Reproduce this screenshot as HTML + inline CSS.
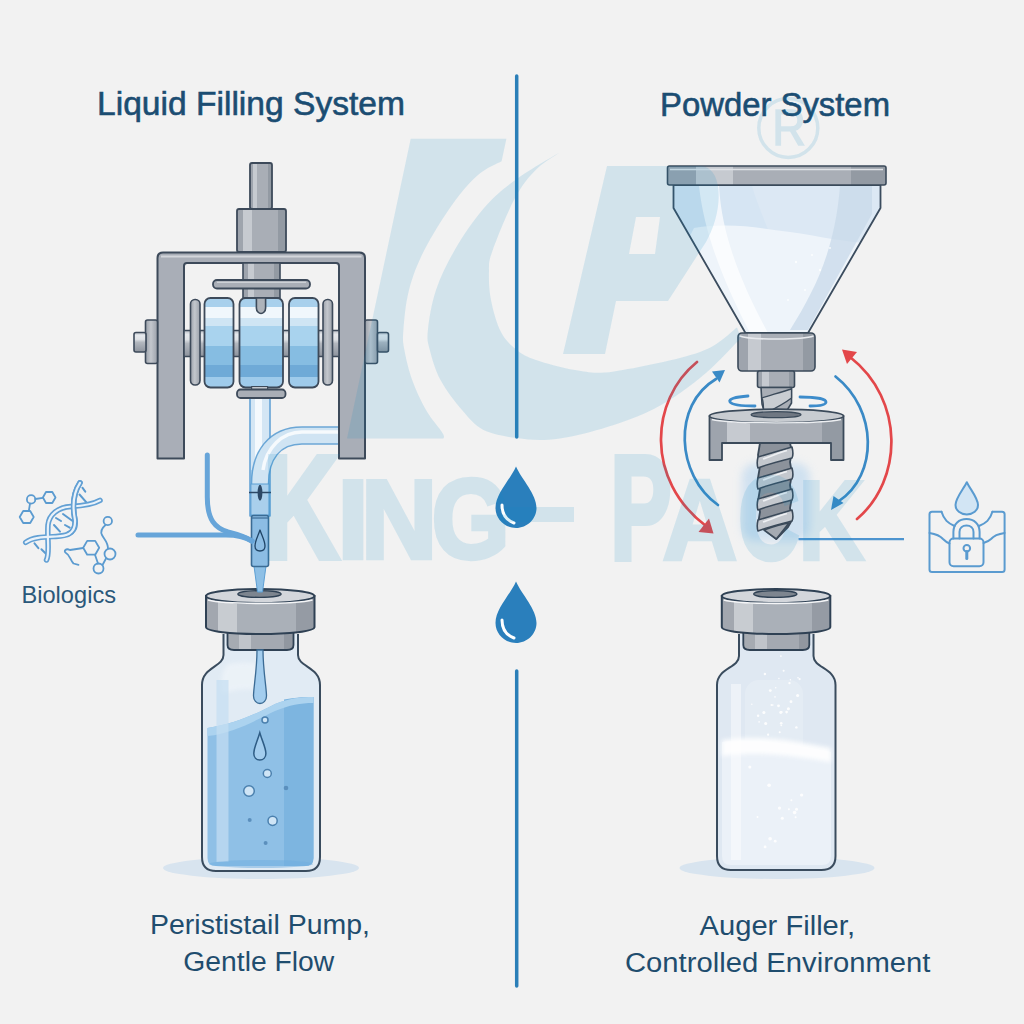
<!DOCTYPE html>
<html><head><meta charset="utf-8">
<style>
html,body{margin:0;padding:0;background:#f2f2f2;}
svg{display:block;}
text{font-family:"Liberation Sans",sans-serif;}
</style></head>
<body>
<svg width="1024" height="1024" viewBox="0 0 1024 1024">
<defs>
  <filter id="blur2" x="-50%" y="-50%" width="200%" height="200%"><feGaussianBlur stdDeviation="2"/></filter>
  <filter id="blur4" x="-50%" y="-50%" width="200%" height="200%"><feGaussianBlur stdDeviation="4"/></filter>
  <linearGradient id="metalH" x1="0" y1="0" x2="1" y2="0">
    <stop offset="0" stop-color="#9ea4ad"/><stop offset="0.13" stop-color="#9ea4ad"/>
    <stop offset="0.13" stop-color="#c6cad0"/><stop offset="0.3" stop-color="#c6cad0"/>
    <stop offset="0.3" stop-color="#a9aeb6"/><stop offset="0.84" stop-color="#a9aeb6"/>
    <stop offset="0.84" stop-color="#939aa3"/><stop offset="1" stop-color="#939aa3"/>
  </linearGradient>
  <linearGradient id="rollerV" x1="0" y1="0" x2="0" y2="1">
    <stop offset="0" stop-color="#a8d0ec"/><stop offset="0.103" stop-color="#a8d0ec"/>
    <stop offset="0.103" stop-color="#f0f7fc"/><stop offset="0.224" stop-color="#f0f7fc"/>
    <stop offset="0.224" stop-color="#cfe5f4"/><stop offset="0.313" stop-color="#cfe5f4"/>
    <stop offset="0.313" stop-color="#a9d3ee"/><stop offset="0.536" stop-color="#a9d3ee"/>
    <stop offset="0.536" stop-color="#86bde2"/><stop offset="0.751" stop-color="#86bde2"/>
    <stop offset="0.751" stop-color="#6faad7"/><stop offset="0.883" stop-color="#6faad7"/>
    <stop offset="0.883" stop-color="#9fcbeb"/><stop offset="1" stop-color="#9fcbeb"/>
  </linearGradient>
  <linearGradient id="axleV" x1="0" y1="0" x2="0" y2="1">
    <stop offset="0" stop-color="#b9bec5"/><stop offset="0.15" stop-color="#e6e9ed"/>
    <stop offset="0.35" stop-color="#dfe2e6"/><stop offset="0.5" stop-color="#b3b8bf"/>
    <stop offset="0.8" stop-color="#9ca2ab"/><stop offset="1" stop-color="#8d939c"/>
  </linearGradient>
  <linearGradient id="discG" x1="0" y1="0" x2="1" y2="0">
    <stop offset="0" stop-color="#9ba1aa"/><stop offset="0.45" stop-color="#c3c7cd"/><stop offset="1" stop-color="#9ba1aa"/>
  </linearGradient>
  <linearGradient id="liquid" x1="0" y1="0" x2="1" y2="0">
    <stop offset="0" stop-color="#a3cbea"/>
    <stop offset="0.5" stop-color="#8fbfe6"/>
    <stop offset="1" stop-color="#78b0de"/>
  </linearGradient>
  <linearGradient id="glass" x1="0" y1="0" x2="1" y2="0">
    <stop offset="0" stop-color="#e3edf6"/>
    <stop offset="0.5" stop-color="#eef4f9"/>
    <stop offset="1" stop-color="#d9e6f1"/>
  </linearGradient>
  <linearGradient id="capG" x1="0" y1="0" x2="1" y2="0">
    <stop offset="0" stop-color="#a2a7af"/><stop offset="0.11" stop-color="#a2a7af"/>
    <stop offset="0.11" stop-color="#c8ccd1"/><stop offset="0.29" stop-color="#c8ccd1"/>
    <stop offset="0.29" stop-color="#aab0b8"/><stop offset="0.83" stop-color="#aab0b8"/>
    <stop offset="0.83" stop-color="#959ba4"/><stop offset="1" stop-color="#959ba4"/>
  </linearGradient>
  <linearGradient id="stopG" x1="0" y1="0" x2="1" y2="0">
    <stop offset="0" stop-color="#a6abb2"/><stop offset="0.17" stop-color="#a6abb2"/>
    <stop offset="0.17" stop-color="#c0c4ca"/><stop offset="0.36" stop-color="#c0c4ca"/>
    <stop offset="0.36" stop-color="#a4a9b1"/><stop offset="0.85" stop-color="#a4a9b1"/>
    <stop offset="0.85" stop-color="#9197a0"/><stop offset="1" stop-color="#9197a0"/>
  </linearGradient>
  <clipPath id="hopClip"><path d="M673.5,185 L880.5,185 L880.5,208 L808,333 L745.5,333 L673.5,208 Z"/></clipPath>
</defs>

<!-- background -->
<rect x="0" y="0" width="1024" height="1024" fill="#f2f2f2"/>

<!-- divider -->
<g stroke="#2b7fb8" stroke-width="3.5" stroke-linecap="round">
  <line x1="516.7" y1="76" x2="516.7" y2="437"/>
  <line x1="516.7" y1="671" x2="516.7" y2="986"/>
</g>
<!-- center drops -->
<g>
  <path d="M516,466.5 C522,480 536.5,494 536.5,508 C536.5,519 527,528 516,528 C505,528 495.5,519 495.5,508 C495.5,494 510,480 516,466.5 Z" fill="#2a7fbc"/>
  <path d="M502,505 C502,513 506,520 514,523" fill="none" stroke="#fff" stroke-width="3" stroke-linecap="round"/>
  <path d="M516,581.5 C522,595 536.5,609 536.5,623 C536.5,634 527,643 516,643 C505,643 495.5,634 495.5,623 C495.5,609 510,595 516,581.5 Z" fill="#2a7fbc"/>
  <path d="M502,620 C502,628 506,635 514,638" fill="none" stroke="#fff" stroke-width="3" stroke-linecap="round"/>
</g>



<!-- ===== LIQUID VIAL ===== -->
<g id="vialL">
  <ellipse cx="261" cy="868" rx="98" ry="11" fill="#d8e4ef"/>
  <path d="M223.5,634 L223.5,655 C223.5,667 202,667 202,685 L202,857 Q202,871 216,871 L306,871 Q320,871 320,857 L320,685 C320,667 298,667 298,655 L298,634 Z" fill="#e1ebf4"/>
  <path d="M228,664 C240,662 250,662 258,664 L258,690 C245,688 232,690 222,694 C220,680 222,670 228,664 Z" fill="#ffffff" opacity="0.35" filter="url(#blur2)"/>
  <path d="M207.5,728 C235,724 258,713 275,704 C290,698 300,697 313.5,697 L313.5,858 Q313.5,866 305,866 L216,866 Q207.5,866 207.5,858 Z" fill="#8fc0e6"/>
  <path d="M284,699.5 C295,697.5 305,697 313.5,697 L313.5,858 Q313.5,866 305,866 L284,866 Z" fill="#7db5e0"/>
  <path d="M207.5,728 C235,724 258,713 275,704 C290,698 300,697 313.5,697 L313.5,703 C300,703 290,705 275,711 C258,719 235,733 207.5,736 Z" fill="#acd3ef"/>
  <rect x="216.5" y="680" width="12" height="182" fill="#c4def2" opacity="0.7"/>
  <ellipse cx="261" cy="864" rx="52" ry="4" fill="#6fade0" opacity="0.5"/>
  <path d="M223.5,634 L223.5,655 C223.5,667 202,667 202,685 L202,857 Q202,871 216,871 L306,871 Q320,871 320,857 L320,685 C320,667 298,667 298,655 L298,634" fill="none" stroke="#3a4c5e" stroke-width="2"/>
  <g>
    <path d="M227.5,630 L227.5,645 C227.5,648.5 230,650 234,650 L287,650 C291,650 293.5,648.5 293.5,645 L293.5,630 Z" fill="url(#stopG)" stroke="#2f4154" stroke-width="1.8"/>
    <path d="M206,596 L206,627 C206,631.5 232,634 260.2,634 C288.4,634 314.5,631.5 314.5,627 L314.5,596 Z" fill="url(#capG)" stroke="#2f4154" stroke-width="2"/>
    <ellipse cx="260.2" cy="596" rx="54.2" ry="7" fill="#d3d6db" stroke="#2f4154" stroke-width="2"/>
    <path d="M208,600 C225,604.5 295,604.5 312.5,600" fill="none" stroke="#f4f5f7" stroke-width="1.6"/>
    <ellipse cx="259.5" cy="594" rx="21.6" ry="3.4" fill="#7d858f" stroke="#2f4154" stroke-width="1.4"/>
  </g>
  <!-- drip stream -->
  <path d="M257,650 L263,650 C263,670 266.5,688 266.5,696 C266.5,700.5 263.5,703.5 260,703.5 C256.5,703.5 253.5,700.5 253.5,696 C253.5,688 257,670 257,650 Z" fill="#a3cdee" stroke="#3b6b94" stroke-width="1.3"/>
  <!-- inner drop -->
  <path d="M259.8,732.7 C262.5,742 265.9,748 265.9,753.5 C265.9,757.5 263.2,760 259.8,760 C256.4,760 253.8,757.5 253.8,753.5 C253.8,748 257,742 259.8,732.7 Z" fill="#a3cdee" stroke="#2e5c85" stroke-width="1.5"/>
  <g fill="#cfe5f6" stroke="#4b80ae" stroke-width="1.5">
    <circle cx="265" cy="720" r="3"/>
    <circle cx="267.3" cy="773.5" r="4"/>
    <circle cx="249" cy="791" r="5.3"/>
    <circle cx="272.6" cy="820.8" r="4.6"/>
  </g>
  <g fill="#5b8fbd">
    <circle cx="286" cy="788" r="2.3"/>
    <circle cx="249.7" cy="820" r="2"/>
    <circle cx="265.6" cy="843" r="2"/>
  </g>
</g>
<!-- ===== POWDER SYSTEM ===== -->
<g id="powder" stroke="#3b4a5a" stroke-width="1.6" stroke-linejoin="round">
  <!-- hopper body -->
  <g clip-path="url(#hopClip)">
  <path d="M673.5,185 L880.5,185 L880.5,208 L808,333 L745.5,333 L673.5,208 Z" fill="#d6e5f3" stroke="none"/>
  <path d="M752,185 L880.5,185 L880.5,208 L808,333 L772,333 C800,280 760,220 752,185 Z" fill="#dce8f4" stroke="none"/>
  <path d="M694,228 C730,222 760,228 790,232 C820,236 850,244 878,243 L808,333 L745.5,333 L690,236 Z" fill="#eef4fa" stroke="none"/>
  <path d="M840,186 L872,186 L872,214 L808,330 L790,330 C815,290 835,250 840,186 Z" fill="#c8d9ea" stroke="none" opacity="0.75"/>
  <path d="M699,186 L719,186 C722,240 745,290 768,333 L750,333 C728,290 705,240 699,186 Z" fill="#ffffff" stroke="none" opacity="0.7"/>
  <g fill="#ffffff" opacity="0.8" stroke="none">
    <circle cx="796" cy="262" r="1.2"/><circle cx="812" cy="255" r="1"/><circle cx="820" cy="270" r="1.2"/>
    <circle cx="805" cy="290" r="1"/><circle cx="830" cy="248" r="1"/><circle cx="788" cy="300" r="1"/>
  </g>
  </g>
  <path d="M673.5,185 L880.5,185 L880.5,208 L808,333 L745.5,333 L673.5,208 Z" fill="none" stroke="#3b4c5e" stroke-width="1.8"/>
  <!-- rim -->
  <rect x="667.5" y="166" width="218.5" height="19" rx="2" fill="url(#metalH)"/>
  <line x1="670" y1="169.5" x2="883" y2="169.5" stroke="#dfe2e6" stroke-width="1.5"/>
  <!-- collar -->
  <rect x="738" y="333" width="77" height="38" rx="4" fill="url(#metalH)"/>
  <path d="M739.5,336 C750,340 803,340 813.5,336" fill="none" stroke="#e8eaee" stroke-width="1.6"/>
  <!-- small shaft -->
  <rect x="757.5" y="371" width="37" height="16.5" rx="2" fill="url(#metalH)"/>
  <!-- auger upper -->
  <path d="M761,387.5 L791.5,387.5 L791.5,403 L786,412 L765,414 L762,404 Z" fill="#a9aeb6"/>
  <path d="M762,398 C772,395 784,391 791.5,389 L791.5,398 C784,404 772,410 764,414 C763,408 764,402 762,398 Z" fill="#c9cdd2" stroke-width="1.3"/>
  <!-- bracket -->
  <path d="M709.5,416 L843.5,416 L843.5,460 L831,460 L831,443 L722,443 L722,460 L709.5,460 Z" fill="url(#metalH)" stroke-width="1.8"/>
  <ellipse cx="776.5" cy="416" rx="67" ry="6.8" fill="#c8ccd1" stroke-width="1.8"/>
  <path d="M712,419.5 C730,424 822,424 841,419.5" fill="none" stroke="#eceef1" stroke-width="1.5"/>
  <ellipse cx="776" cy="414.7" rx="25" ry="3" fill="#6f7782" stroke-width="1.2"/>
  <!-- auger lower -->
  <rect x="742" y="463" width="68" height="78" rx="14" fill="#b9d6ef" stroke="none" opacity="0.6" filter="url(#blur4)"/>
  <path d="M760,443 L790,443 L792,452 L790,462 L792,474 L790,485 L792,497 L790,508 L792,520 L788,527 L776.3,539 L764,529 L758,524 L760,512 L758,501 L760,489 L758,478 L760,466 L758,455 Z" fill="#8c929b" stroke-width="1.8"/>
  <path d="M758,457.0 C768,454.0 782,450.0 792,447.0 C793,451.0 793,456.0 792,458.0 C782,461.0 768,464.0 758,468.0 C757,465.0 757,461.0 758,457.0 Z" fill="#c4c8ce" stroke-width="1.6"/>
  <path d="M763,459.0 C771,456.5 779,452.5 787,450.5" fill="none" stroke="#eef0f3" stroke-width="1.8" />
  <path d="M758,478.0 C768,475.0 782,471.0 792,468.0 C793,472.0 793,477.0 792,479.0 C782,482.0 768,485.0 758,489.0 C757,486.0 757,482.0 758,478.0 Z" fill="#c4c8ce" stroke-width="1.6"/>
  <path d="M763,480.0 C771,477.5 779,473.5 787,471.5" fill="none" stroke="#eef0f3" stroke-width="1.8" />
  <path d="M758,499.0 C768,496.0 782,492.0 792,489.0 C793,493.0 793,498.0 792,500.0 C782,503.0 768,506.0 758,510.0 C757,507.0 757,503.0 758,499.0 Z" fill="#c4c8ce" stroke-width="1.6"/>
  <path d="M763,501.0 C771,498.5 779,494.5 787,492.5" fill="none" stroke="#eef0f3" stroke-width="1.8" />
  <path d="M758,520.0 C768,517.0 782,513.0 792,510.0 C793,514.0 793,519.0 792,521.0 C782,524.0 768,527.0 758,531.0 C757,528.0 757,524.0 758,520.0 Z" fill="#c4c8ce" stroke-width="1.6"/>
  <path d="M763,522.0 C771,519.5 779,515.5 787,513.5" fill="none" stroke="#eef0f3" stroke-width="1.8" />
  <path d="M764,530 C772,527 782,524 789,523 L776.3,539 Z" fill="#a5abb3" stroke-width="1.6"/>
</g>
<!-- rotation arrows -->
<g fill="none" stroke-linecap="round" stroke-width="2.7">
  <path d="M697,362 C650,400 645,480 706,526" stroke="#e3474a"/>
  <path d="M718,505 C676,475 672,405 716,379" stroke="#3a8ac6"/>
  <path d="M857,519 C903,480 905,400 850,357" stroke="#e3474a"/>
  <path d="M835.5,376.5 C878,410 878,475 839,501" stroke="#3a8ac6"/>
  <path d="M748,396 C735,397 728,399 730,402 C732,405 745,406 755,406" stroke="#3d8ccb" stroke-width="2.8"/>
  <path d="M800,397 C815,397 826,399 826,402 C826,405 818,406 810,406" stroke="#3d8ccb" stroke-width="2.8"/>
</g>
<g stroke="none">
  <path d="M713.5,533.5 L698.5,532 L709,518.5 Z" fill="#e3474a"/>
  <path d="M725,370 L712,371.5 L719.5,382.5 Z" fill="#3a8ac6"/>
  <path d="M842,349.5 L857,352 L847,364 Z" fill="#e3474a"/>
  <path d="M831,510 L833.5,496 L843.5,503 Z" fill="#3a8ac6"/>
</g>
<line x1="798.5" y1="539.2" x2="904" y2="539.2" stroke="#4d94cf" stroke-width="2.2"/>

<!-- ===== POWDER VIAL ===== -->
<g id="vialR">
  <ellipse cx="777" cy="868" rx="97.5" ry="11" fill="#d8e4ef"/>
  <path d="M739,634 L739,656 C739,668 717,668 717,685 L717,856 Q717,870 731,870 L821.5,870 Q835.5,870 835.5,856 L835.5,685 C835.5,668 813.5,668 813.5,656 L813.5,634 Z" fill="#dfe8f2"/>
  <rect x="745" y="680" width="58" height="180" rx="14" fill="#ffffff" opacity="0.18"/>
  <path d="M722,742 C760,737 800,746 831,752 L831,856 Q831,865 822,865 L731,865 Q722,865 722,856 Z" fill="#ebf1f8"/>
  <path d="M722,740 C760,734 800,742 831,748 L831,762 C800,757 760,750 722,756 Z" fill="#ffffff" opacity="0.9" filter="url(#blur2)"/>
  <rect x="731" y="684" width="10" height="176" fill="#ffffff" opacity="0.45"/>
  <g fill="#ffffff" opacity="0.9">
    <circle cx="764.9" cy="674.0" r="1.2"/><circle cx="772.8" cy="705.1" r="0.8"/><circle cx="780.9" cy="656.1" r="0.9"/><circle cx="768.1" cy="734.7" r="1.1"/><circle cx="759.1" cy="721.9" r="0.8"/><circle cx="778.5" cy="705.8" r="1.4"/><circle cx="775.0" cy="696.9" r="0.8"/><circle cx="758.1" cy="715.7" r="1.2"/><circle cx="799.6" cy="679.1" r="1.1"/><circle cx="780.7" cy="712.5" r="1.4"/><circle cx="786.6" cy="712.1" r="1.3"/><circle cx="770.3" cy="690.6" r="1.4"/><circle cx="781.3" cy="725.3" r="0.9"/><circle cx="779.7" cy="732.2" r="1.0"/><circle cx="771.5" cy="705.1" r="1.0"/><circle cx="789.5" cy="683.1" r="1.2"/><circle cx="791.0" cy="701.7" r="1.4"/><circle cx="765.7" cy="723.5" r="1.5"/><circle cx="788.4" cy="708.7" r="1.5"/><circle cx="796.4" cy="727.4" r="1.2"/><circle cx="781.5" cy="712.1" r="1.2"/><circle cx="798.0" cy="677.8" r="0.8"/><circle cx="781.2" cy="723.3" r="1.3"/><circle cx="775.7" cy="687.8" r="0.8"/><circle cx="778.9" cy="678.5" r="0.7"/><circle cx="751.8" cy="704.2" r="0.7"/><circle cx="763.9" cy="712.5" r="1.5"/><circle cx="797.6" cy="695.4" r="1.5"/><circle cx="790.4" cy="679.8" r="0.7"/><circle cx="783.6" cy="670.8" r="1.0"/><circle cx="757.5" cy="816.9" r="1.0"/><circle cx="770.1" cy="838.8" r="1.8"/><circle cx="775.2" cy="841.2" r="1.4"/><circle cx="796.5" cy="809.2" r="1.5"/><circle cx="794.6" cy="812.5" r="1.8"/><circle cx="779.5" cy="808.1" r="1.6"/><circle cx="769.1" cy="785.2" r="1.8"/><circle cx="788.9" cy="809.3" r="1.0"/><circle cx="791.4" cy="800.3" r="1.0"/><circle cx="795.6" cy="817.3" r="1.0"/><circle cx="782.3" cy="818.3" r="1.5"/><circle cx="801.6" cy="795.0" r="1.6"/><circle cx="749.8" cy="766.9" r="1.5"/><circle cx="765.1" cy="846.9" r="1.4"/>
  </g>
  <path d="M739,634 L739,656 C739,668 717,668 717,685 L717,856 Q717,870 731,870 L821.5,870 Q835.5,870 835.5,856 L835.5,685 C835.5,668 813.5,668 813.5,656 L813.5,634" fill="none" stroke="#3a4c5e" stroke-width="2"/>
  <g transform="translate(515.8,0)">
    <path d="M227.5,630 L227.5,645 C227.5,648.5 230,650 234,650 L287,650 C291,650 293.5,648.5 293.5,645 L293.5,630 Z" fill="url(#stopG)" stroke="#2f4154" stroke-width="1.8"/>
    <path d="M206,596 L206,627 C206,631.5 232,634 260.2,634 C288.4,634 314.5,631.5 314.5,627 L314.5,596 Z" fill="url(#capG)" stroke="#2f4154" stroke-width="2"/>
    <ellipse cx="260.2" cy="596" rx="54.2" ry="7" fill="#d3d6db" stroke="#2f4154" stroke-width="2"/>
    <path d="M208,600 C225,604.5 295,604.5 312.5,600" fill="none" stroke="#f4f5f7" stroke-width="1.6"/>
    <ellipse cx="259.5" cy="594" rx="21.6" ry="3.4" fill="#7d858f" stroke="#2f4154" stroke-width="1.4"/>
  </g>
</g>
<!-- ===== DNA ICON ===== -->
<g id="dna" fill="none" stroke-linecap="round" stroke-linejoin="round">
  <g stroke="#5b9bd0" stroke-width="2">
    <line x1="63" y1="514" x2="72.6" y2="521"/>
    <line x1="56" y1="518" x2="61" y2="521"/>
    <line x1="54" y1="525" x2="60" y2="531.6"/>
    <line x1="65" y1="525" x2="69.7" y2="527.7"/>
    <line x1="34.5" y1="543.4" x2="38.4" y2="548.2"/>
    <line x1="41.4" y1="549.2" x2="46.2" y2="554"/>
    <line x1="79.5" y1="494.5" x2="87.3" y2="503.3"/>
    <line x1="82.4" y1="487.7" x2="85.3" y2="491.6"/>
  </g>
  <g stroke="#62a0d4" stroke-width="5.5">
    <path d="M100,500.4 C92,505 80,506 71,506.5 C58,507 49,515 48,525 C47,540 50,553 46.5,560"/>
    <path d="M80,482.8 C72,495 73,510 75,520 C76,535 65,536 56,536.5 C45,537 33,537 25.7,542.4"/>
  </g>
  <g stroke="#e9f2fa" stroke-width="2.2">
    <path d="M100,500.4 C92,505 80,506 71,506.5 C58,507 49,515 48,525 C47,540 50,553 46.5,560"/>
  </g>
  <g stroke="#62a0d4" stroke-width="5.5">
    <path d="M80,482.8 C72,495 73,510 75,520 C76,528 73,532 68,534"/>
  </g>
  <g stroke="#e9f2fa" stroke-width="2.2">
    <path d="M80,482.8 C72,495 73,510 75,520 C76,535 65,536 56,536.5 C45,537 33,537 25.7,542.4"/>
  </g>
  <g stroke="#5b9bd0" stroke-width="1.8">
    <polygon points="55.5,497.5 52.3,503 46,503 42.9,497.5 46,492 52.3,492"/>
    <circle cx="31.1" cy="499.4" r="4.2"/>
    <polygon points="33.7,517 30.2,523 23.2,523 19.7,517 23.2,511 30.2,511"/>
    <line x1="35.3" y1="499" x2="42.9" y2="497.8"/>
    <line x1="30" y1="503.6" x2="28.8" y2="511"/>
    <polygon points="99.2,547.8 95.2,554.7 87.2,554.7 83.2,547.8 87.2,540.9 95.2,540.9"/>
    <circle cx="110" cy="554" r="5.5"/>
    <circle cx="98.5" cy="568.5" r="5"/>
    <circle cx="107.8" cy="521" r="4.2"/>
    <path d="M83.2,548 L70,550 C66,548 63,551 66,553 C70,555 70,560 73.5,563.5 L78.5,564.8"/>
    <line x1="95" y1="554.7" x2="98" y2="563.5"/>
    <line x1="102.5" y1="565" x2="106" y2="558.5"/>
    <path d="M105.5,525 C102,528 100,531 102,535 C104,539 108,542 108,548.5"/>
  </g>
</g>

<!-- ===== LOCK ICON ===== -->
<g id="lock" fill="none" stroke="#5a9bd0" stroke-width="2" stroke-linecap="round" stroke-linejoin="round">
  <path d="M941.5,511.8 L932,511.8 Q929.5,511.8 929.5,514.3 L929.5,569.4 Q929.5,571.9 932,571.9 L1002.1,571.9 Q1004.6,571.9 1004.6,569.4 L1004.6,514.3 Q1004.6,511.8 1002.1,511.8 L992.4,511.8"/>
  <path d="M941.5,511.8 C944,520 948,523 954.5,526"/>
  <path d="M992.4,511.8 C990,520 986,523 979,526"/>
  <path d="M929.5,533 C936,534 940,535.5 943,539 C945,541 947,542.5 949.5,543.5"/>
  <path d="M1004.6,533 C998,534 994,535.5 991,539 C989,541 987,542 983.5,543"/>
  <rect x="949.5" y="538.5" width="34" height="27.8" rx="4"/>
  <path d="M953.4,538.5 L953.4,532 C953.4,524 959,519 966.5,519 C974,519 979.6,524 979.6,532 L979.6,538.5"/>
  <path d="M959.5,538.5 L959.5,532 C959.5,528 962.5,525.5 966.5,525.5 C970.5,525.5 973.5,528 973.5,532 L973.5,538.5"/>
  <circle cx="966.8" cy="548.3" r="3.3"/>
  <path d="M966.8,551.5 L966.8,558.5" stroke-width="3"/>
  <path d="M966.8,482.2 C970,489 978,498 978,505 C978,510.5 973,514.5 966.8,514.5 C960.6,514.5 955.5,510.5 955.5,505 C955.5,498 963.5,489 966.8,482.2 Z" fill="#d2e5f4"/>
</g>

<!-- ===== PUMP ===== -->
<g id="pump" stroke="#3d4a5a" stroke-width="1.6" stroke-linejoin="round">
  <!-- vertical tube -->
  <rect x="250" y="396" width="20" height="120" fill="#d4e6f4" stroke="#5d9fd3" stroke-width="1.5"/>
  <rect x="255" y="398" width="7" height="116" fill="#f4f9fd" stroke="none"/>
  <!-- curved tube -->
  <path d="M251,470 L269,470 L269,514 L251,514 Z" fill="#aed2ee" stroke="none"/>
  <path d="M339,435.5 L302,435.5 C274,435.5 260,456 260,484" fill="none" stroke="#5d9fd3" stroke-width="18.5" opacity="0.9"/>
  <path d="M339,435.5 L302,435.5 C274,435.5 260,456 260,484" fill="none" stroke="#dcebf6" stroke-width="15.5" opacity="0.9"/>
  <path d="M339,432 L302,432 C282,432 266,448 263,470" fill="none" stroke="#ffffff" stroke-width="3.5" opacity="0.8"/>
  <rect x="250.8" y="484" width="18.4" height="31" fill="#a9cfec" stroke="#5d9fd3" stroke-width="1.2"/>
  <!-- frame -->
  <path d="M157.5,458.5 L157.5,258 Q157.5,252.5 163,252.5 L359.5,252.5 Q365,252.5 365,258 L365,458.5 L339,458.5 L339,266 Q339,263 336,263 L187,263 Q184,263 184,266 L184,458.5 Z" fill="#a9aeb7" stroke-width="2"/>
  <path d="M161,256.5 L361.5,256.5" stroke="#d3d6db" stroke-width="1.8"/>
  <!-- top rod & hex -->
  <rect x="250" y="163" width="22" height="46" rx="2" fill="url(#metalH)" stroke-width="1.8"/>
  <rect x="237" y="209" width="49" height="43" rx="2" fill="url(#metalH)" stroke-width="1.8"/>
  <rect x="243" y="263" width="37" height="35" fill="url(#metalH)"/>
  <rect x="213" y="280" width="97" height="8.5" rx="4" fill="#a9aeb6" stroke-width="1.8"/>
  <line x1="217" y1="282.3" x2="306" y2="282.3" stroke="#cdd1d6" stroke-width="1.2"/>
  <!-- axle -->
  <rect x="184" y="330.5" width="155" height="26" fill="url(#axleV)"/>
  <rect x="145.5" y="320" width="12" height="43.5" rx="2" fill="url(#discG)"/>
  <rect x="134" y="332.5" width="12" height="19.5" rx="2" fill="url(#axleV)"/>
  <rect x="365" y="320" width="12.5" height="43.5" rx="2" fill="url(#discG)"/>
  <rect x="377.5" y="332.5" width="11" height="19.5" rx="2" fill="url(#axleV)"/>
  <!-- thin discs -->
  <rect x="190.5" y="299.5" width="9.5" height="85.5" rx="4.5" fill="url(#discG)"/>
  <rect x="323" y="299.5" width="9.5" height="85.5" rx="4.5" fill="url(#discG)"/>
  <!-- rollers -->
  <rect x="204.5" y="298" width="29" height="89.5" rx="6" fill="url(#rollerV)" stroke-width="1.8"/>
  <rect x="239.5" y="298" width="43.5" height="89.5" rx="6" fill="url(#rollerV)" stroke-width="1.8"/>
  <rect x="289" y="298" width="29.5" height="89.5" rx="6" fill="url(#rollerV)" stroke-width="1.8"/>
  <path d="M256.4,298 L265.6,298 L265.6,308 C265.6,311.5 263,313.5 261,313.5 C259,313.5 256.4,311.5 256.4,308 Z" fill="#aeb3ba"/>
  <!-- bottom plate -->
  <rect x="251.6" y="386.5" width="16" height="4" fill="#c3c7cd" stroke-width="1.2"/>
  <rect x="237" y="389.5" width="48.5" height="8.5" rx="3.5" fill="#a9aeb6" stroke-width="1.8"/>
  <!-- valve -->
  <line x1="249" y1="492.5" x2="271" y2="492.5" stroke="#2c4866" stroke-width="1.5"/>
  <ellipse cx="260" cy="492.7" rx="2.4" ry="8" fill="#2c4866" stroke="none"/>
  <!-- lower nozzle -->
  <path d="M254,566 L266,566 L262.5,592 L257.5,592 Z" fill="#8ec0e6" stroke="#5d9fd3" stroke-width="1"/>
  <rect x="251.5" y="515.5" width="17" height="51" rx="2" fill="#8cbde4" stroke="#3b6b94"/>
  <line x1="251.5" y1="518" x2="268.5" y2="518" stroke="#3b6b94" stroke-width="1.2"/>
  <path d="M260,530 C262,536 265,541 265,546 C265,549 263,551 260,551 C257,551 255,549 255,546 C255,541 258,536 260,530 Z" fill="none" stroke="#1f4466" stroke-width="1.3"/>
</g>
<!-- biologics connector -->
<g fill="none" stroke="#67a5d9" stroke-width="5" stroke-linecap="round">
  <path d="M207.3,455 L207.3,497 C207.3,520 215,528 228,532 C240,535 247,538 252,541"/>
  <path d="M138,535 L226,535 C240,535 247,538 252,541"/>
</g>

<!-- titles -->
<g fill="#1b4d72">
  <text x="97" y="115" font-size="33" textLength="308" lengthAdjust="spacingAndGlyphs" stroke="#1b4d72" stroke-width="0.6">Liquid Filling System</text>
  <text x="660" y="115.5" font-size="33" textLength="230" lengthAdjust="spacingAndGlyphs" stroke="#1b4d72" stroke-width="0.6">Powder System</text>
  <text x="21.5" y="603.3" font-size="24.5" textLength="94.5" lengthAdjust="spacingAndGlyphs" fill="#2a587a">Biologics</text>
  <text x="150" y="934.3" font-size="27" textLength="220" lengthAdjust="spacingAndGlyphs" fill="#1f4d6e">Perististail Pump,</text>
  <text x="183.3" y="971.1" font-size="27" textLength="151" lengthAdjust="spacingAndGlyphs" fill="#1f4d6e">Gentle Flow</text>
  <text x="699.6" y="934.9" font-size="27" textLength="155.4" lengthAdjust="spacingAndGlyphs" fill="#1f4d6e">Auger Filler,</text>
  <text x="625" y="972.4" font-size="27" textLength="305.4" lengthAdjust="spacingAndGlyphs" fill="#1f4d6e">Controlled Environment</text>
</g>

<!-- watermark -->
<g fill="#148ec7" opacity="0.14">
  <path d="M410.7,138.8 L506.4,138.8 L501.6,161.3 C497.7,163.6 486.1,167.9 478.0,175.0 C469.9,182.1 461.6,191.5 452.7,204.0 C443.8,216.5 431.7,235.7 424.4,250.0 C417.1,264.3 412.5,276.7 409.0,290.0 C405.5,303.3 404.2,320.0 403.4,330.0 C402.6,340.0 402.9,341.7 404.4,350.0 C405.9,358.3 408.6,370.0 412.2,380.0 C415.8,390.0 420.9,401.2 426.0,410.0 C431.1,418.8 439.6,428.2 442.5,433.0 C445.4,437.8 443.3,437.6 443.5,438.5 L347,438.5 Z"/>
  <path d="M563.0,150.5 C555.3,155.2 530.2,169.2 517.0,178.8 C503.8,188.4 494.4,196.1 484.0,208.0 C473.6,219.9 462.7,236.3 454.7,250.0 C446.7,263.7 440.5,276.7 436.0,290.0 C431.5,303.3 428.9,320.0 427.9,330.0 C426.9,340.0 427.7,341.7 429.8,350.0 C431.9,358.3 435.1,370.0 440.5,380.0 C445.9,390.0 454.8,401.7 462.0,410.0 C469.2,418.3 474.4,425.0 483.5,430.0 C492.6,434.0 504.0,436.5 516.7,438.0 C529.5,439.5 538.5,441.5 560.0,438.5 C581.5,435.5 622.2,423.7 645.5,413.0 C668.8,402.3 684.1,390.5 700.0,378.0 C715.9,365.5 734.2,344.7 741.0,338.0 L737,327.5 C730.8,331.6 720.5,344.7 700.0,352.0 C679.5,359.3 634.8,368.4 614.0,371.4 C593.2,374.4 588.0,371.9 575.0,370.0 C562.0,368.1 545.7,363.3 536.0,360.0 C526.3,356.7 522.5,354.7 516.7,350.0 C510.9,345.3 505.3,340.3 501.0,332.0 C496.7,323.7 493.0,310.3 491.0,300.0 C489.0,289.7 488.7,278.3 489.0,270.0 C489.3,261.7 488.5,262.0 492.8,250.0 C497.1,238.0 507.7,211.5 515.0,198.0 C522.3,184.5 528.7,176.9 536.7,169.0 C544.7,161.1 558.6,153.6 563.0,150.5 Z"/>
  <path fill-rule="evenodd" d="M607,166 L700,166 C724,166 724,212 706,242 L668,301 L616,301 L605,354 L563,354 Z M636,217 L660,217 L655,254 L629,254 Z"/>
  <text transform="translate(262.97,558.4) scale(0.10497,0.14695)" font-size="1000" font-weight="bold" stroke="#148ec7" stroke-width="40">K</text>
  <text transform="translate(337.50,558.4) scale(0.11189,0.11076)" font-size="1000" font-weight="bold" stroke="#148ec7" stroke-width="40">I</text>
  <text transform="translate(361.37,558.4) scale(0.10494,0.11105)" font-size="1000" font-weight="bold" stroke="#148ec7" stroke-width="40">N</text>
  <text transform="translate(431.70,558.4) scale(0.10000,0.11375)" font-size="1000" font-weight="bold" stroke="#148ec7" stroke-width="40">G</text>
  <text transform="translate(610.23,559) scale(0.09204,0.14826)" font-size="1000" font-weight="bold" stroke="#148ec7" stroke-width="40">P</text>
  <text transform="translate(663.05,559) scale(0.10209,0.11337)" font-size="1000" font-weight="bold" stroke="#148ec7" stroke-width="40">A</text>
  <text transform="translate(738.55,559) scale(0.08423,0.11748)" font-size="1000" font-weight="bold" stroke="#148ec7" stroke-width="40">C</text>
  <text transform="translate(799.02,559) scale(0.08929,0.11134)" font-size="1000" font-weight="bold" stroke="#148ec7" stroke-width="40">K</text>
  <rect x="505" y="507" width="69" height="15"/>
  <circle cx="788.3" cy="128" r="29.5" fill="none" stroke="#148ec7" stroke-width="3.5"/>
  <text transform="translate(772.19,144.6) scale(0.04645,0.05029)" font-size="1000" stroke="#148ec7" stroke-width="30">R</text>
</g>

</svg>
</body></html>
